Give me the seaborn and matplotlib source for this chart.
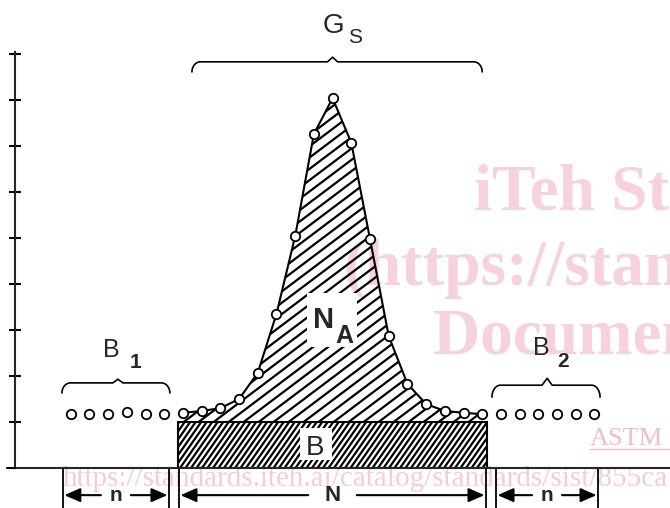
import numpy as np
import pandas as pd
import matplotlib
matplotlib.use('Agg')
import matplotlib.pyplot as plt
from matplotlib.collections import LineCollection
from matplotlib.patches import Rectangle
import seaborn as sns

# spectrum (x = channel number, y in tick units)
b1_channels = [1, 2, 3, 4, 5, 6]
b1_counts = [1.17, 1.17, 1.17, 1.22, 1.17, 1.17]
peak_channels = [7, 8, 9, 10, 11, 12, 13, 14, 15, 16, 17, 18, 19, 20, 21, 22, 23]
peak_counts = [1.20, 1.24, 1.30, 1.50, 2.07, 3.35, 5.04, 7.26, 8.04, 7.07,
               4.98, 2.87, 1.83, 1.39, 1.24, 1.20, 1.17]
b2_channels = [24, 25, 26, 27, 28, 29]
b2_counts = [1.17, 1.17, 1.17, 1.17, 1.17, 1.17]
baseline = 1.0
y_ticks = [1, 2, 3, 4, 5, 6, 7, 8, 9]

wm_big = ['iTeh Standards', '(https://standards.iteh.ai)', 'Document Preview']
wm_astm = 'ASTM'
wm_url = 'https://standards.iteh.ai/catalog/standards/sist/855ca'

df = pd.DataFrame({
    'channel': b1_channels + peak_channels + b2_channels,
    'counts': b1_counts + peak_counts + b2_counts,
})

sns.set_style('white')
plt.rcParams['font.family'] = ['Liberation Sans', 'DejaVu Sans']
narrow = ['Liberation Sans Narrow', 'Liberation Sans', 'DejaVu Sans']
serif = ['Liberation Serif', 'DejaVu Serif']

W, H = 670, 508
fig = plt.figure(figsize=(W / 100, H / 100), dpi=100)
ax = fig.add_axes([15 / W, 40 / H, 655 / W, 416.3 / H])
ax.set_xlim(-1.98, 33.04)
ax.set_ylim(0, 9.05)
ax.patch.set_alpha(0)

# watermark, behind everything
pink = '#f6d3dc'
for txt, (x, y) in zip(wm_big, [(474, 210), (343, 285), (433, 354)]):
    fig.text(x / W, 1 - y / H, txt, family=serif, weight='bold', fontsize=47,
             color=pink, ha='left', va='baseline', zorder=-1)
fig.text(590 / W, 1 - 445 / H, wm_astm, family=serif, fontsize=19,
         color='#f1bdcb', ha='left', va='baseline', zorder=-1)
fig.add_artist(plt.Line2D([590 / W, 1], [1 - 449 / H] * 2, color='#f1bdcb', lw=1, zorder=-1))
fig.text(63 / W, 1 - 486 / H, wm_url, family=serif, fontsize=21,
         color='#f4ccd6', ha='left', va='baseline', zorder=-1)


def hatch_lines(clip, clip_tf, angle, gap, lw):
    x0, x1 = ax.get_xlim()
    y0, y1 = ax.get_ylim()
    sx = ax.bbox.width / (x1 - x0)
    run = ax.bbox.height / np.tan(np.radians(angle))
    segs = [[(x0 + c / sx, y0), (x0 + (c + run) / sx, y1)]
            for c in np.arange(-run, ax.bbox.width + gap, gap)]
    lc = LineCollection(segs, colors='black', linewidths=lw, zorder=2)
    ax.add_collection(lc, autolim=False)
    if clip_tf is None:
        lc.set_clip_path(clip)
    else:
        lc.set_clip_path(clip, clip_tf)


# baseline block B
rect = Rectangle((peak_channels[0] - 0.25, 0), peak_channels[-1] - peak_channels[0] + 0.5,
                 baseline, facecolor='none', edgecolor='black', lw=1.5, zorder=2.2)
ax.add_patch(rect)
hatch_lines(rect, None, 55, 5.5, 1.6)

# net peak area N_A
poly = ax.fill_between(peak_channels, baseline, peak_counts, facecolor='none', lw=0)
hatch_lines(poly.get_paths()[0], ax.transData, 37, 15, 1.6)

sns.lineplot(x=peak_channels, y=peak_counts, color='black', lw=1.5, ax=ax, zorder=3)
sns.scatterplot(data=df, x='channel', y='counts', s=46, color='white',
                edgecolor='black', linewidth=1.3, zorder=4, ax=ax)

# axes look
sns.despine(ax=ax)
for s in ['left', 'bottom']:
    ax.spines[s].set_linewidth(1.5)
ax.set_xticks([])
ax.set_yticks(y_ticks)
ax.set_yticklabels([])
ax.tick_params(axis='y', left=True, direction='inout', length=9, width=1.5, color='black')
ax.set_xlabel('')
ax.set_ylabel('')
fig.add_artist(plt.Line2D([7 / W, 15 / W], [40 / H] * 2, color='black', lw=1.5))

# labels with white boxes
ax.add_patch(Rectangle((13.63, 2.63), 2.67, 1.17, facecolor='white', lw=0, zorder=2.5))
ax.text(13.95, 3.04, 'N', family=narrow, weight='bold', fontsize=21, va='baseline', zorder=5)
ax.text(15.13, 2.72, 'A', family=narrow, weight='bold', fontsize=18, va='baseline', zorder=5)
ax.add_patch(Rectangle((13.26, 0.17), 1.71, 0.70, facecolor='white', lw=0, zorder=2.5))
ax.text(13.58, 0.28, 'B', fontsize=20, va='baseline', zorder=5)

ax.text(14.49, 9.46, 'G', fontsize=20, va='baseline', clip_on=False)
ax.text(15.82, 9.24, 'S', fontsize=15, va='baseline', clip_on=False)
ax.text(2.72, 2.41, 'B', fontsize=18, va='baseline')
ax.text(4.17, 2.17, '1', fontsize=15, weight='bold', va='baseline')
ax.text(25.72, 2.46, 'B', fontsize=18, va='baseline')
ax.text(27.0, 2.20, '2', fontsize=15, weight='bold', va='baseline')


def brace(x0, x1, xm, y, drop, tip, r=0.45, w=0.27):
    t = np.linspace(0, np.pi / 2, 12)
    left = np.c_[x0 + r * (1 - np.cos(t)), y - drop + drop * np.sin(t)]
    right = np.c_[x1 - r * (1 - np.cos(t[::-1])), y - drop + drop * np.sin(t[::-1])]
    mid = np.array([[xm - w, y], [xm, y + tip], [xm + w, y]])
    pts = np.vstack([left, mid, right])
    ax.plot(pts[:, 0], pts[:, 1], color='black', lw=1.2, clip_on=False)


brace(7.48, 23.0, 15.0, 8.83, 0.22, 0.10)
brace(0.53, 6.3, 3.52, 1.85, 0.22, 0.08)
brace(23.52, 29.3, 26.47, 1.80, 0.26, 0.15)

# channel-range markers below the axis
edges = [0.58, 6.25, 6.79, 23.2, 23.74, 29.19]
for e in edges:
    ax.plot([e, e], [0, -0.87], color='black', lw=1.3, clip_on=False)

ay = -0.59
for (x0, x1), lab, gap in [((0.58, 6.25), 'n', 0.8), ((6.79, 23.2), 'N', 1.3), ((23.74, 29.19), 'n', 0.8)]:
    xm = (x0 + x1) / 2
    for a, b in [(xm - gap, x0 + 0.08), (xm + gap, x1 - 0.08)]:
        ax.annotate('', xy=(b, ay), xytext=(a, ay), xycoords='data',
                    arrowprops=dict(arrowstyle='-|>,head_length=0.8,head_width=0.35',
                                    color='black', lw=1.5, shrinkA=0, shrinkB=0,
                                    mutation_scale=12),
                    annotation_clip=False)
    ax.text(xm, ay - 0.13, lab, family=narrow, weight='bold', fontsize=16 if lab == 'N' else 15,
            ha='center', va='baseline', clip_on=False)

fig.savefig('out.png', dpi=100)
